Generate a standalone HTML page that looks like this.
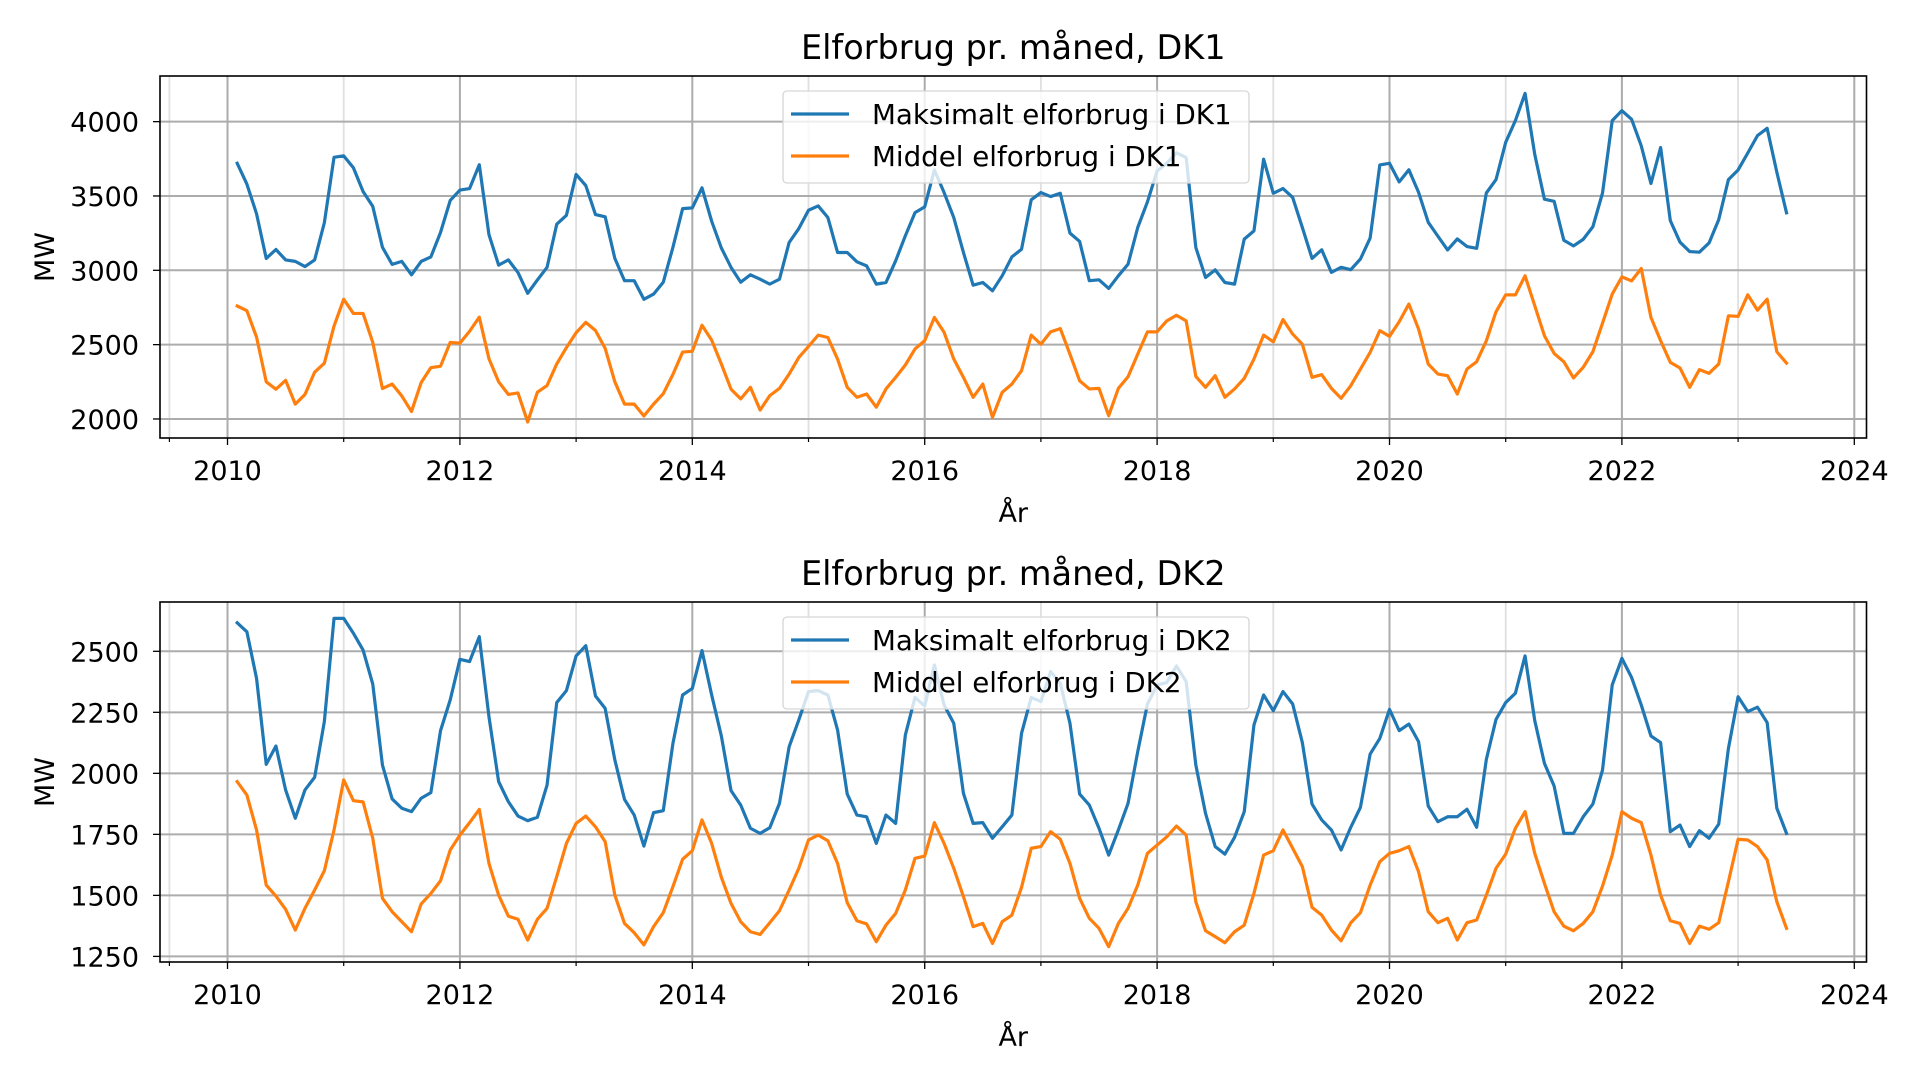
<!DOCTYPE html>
<html><head><meta charset="utf-8"><style>
html,body{margin:0;padding:0;background:#fff;}
svg{display:block;font-family:"DejaVu Sans","Liberation Sans",sans-serif;}
</style></head><body>
<svg id="fig" width="1920" height="1080" viewBox="0 0 1920 1080" xmlns="http://www.w3.org/2000/svg"></svg>
<script>
// ---- data (monthly, Jan 2010 .. May 2023) ----
const startYear = 2010;
const xTickLabels = ["2010","2012","2014","2016","2018","2020","2022","2024"];
const dk1YTicks = [2000,2500,3000,3500,4000];
const dk2YTicks = [1250,1500,1750,2000,2250,2500];
const dk1Max = [3720,3580,3380,3080,3140,3070,3060,3025,3070,3320,3760,3770,
3690,3530,3430,3155,3040,3060,2970,3060,3090,3255,3470,3540,
3550,3710,3240,3035,3070,2985,2845,2935,3020,3310,3370,3645,
3570,3375,3360,3080,2930,2930,2805,2840,2920,3155,3415,3420,
3555,3330,3150,3020,2920,2970,2940,2907,2940,3187,3281,3404,
3433,3355,3120,3120,3057,3030,2907,2918,3064,3232,3388,3427,
3675,3523,3355,3120,2900,2918,2862,2963,3090,3142,3474,3523,
3496,3518,3250,3194,2930,2936,2878,2963,3041,3288,3460,3668,
3720,3790,3758,3153,2952,3003,2918,2907,3210,3265,3747,3518,
3550,3490,3288,3080,3138,2986,3020,3004,3076,3217,3709,3720,
3595,3676,3525,3323,3229,3137,3211,3160,3148,3520,3610,3861,
4007,4190,3780,3478,3464,3202,3164,3208,3293,3520,4007,4074,
4016,3837,3584,3826,3334,3189,3126,3122,3184,3341,3610,3675,
3789,3906,3955,3660,3387];
const dk1Mean = [2760,2728,2550,2250,2200,2260,2100,2165,2315,2375,2625,2805,
2710,2710,2515,2205,2235,2155,2050,2245,2345,2355,2515,2510,
2590,2685,2405,2250,2165,2175,1980,2180,2225,2370,2480,2580,
2650,2595,2475,2250,2100,2100,2020,2100,2170,2300,2450,2455,
2630,2530,2370,2200,2135,2213,2060,2157,2206,2302,2414,2488,
2564,2548,2403,2213,2146,2168,2079,2202,2280,2363,2471,2527,
2683,2583,2403,2280,2146,2235,2011,2179,2235,2325,2564,2503,
2586,2608,2436,2257,2202,2206,2022,2206,2284,2436,2586,2586,
2660,2698,2660,2286,2213,2291,2146,2202,2273,2403,2564,2519,
2669,2571,2503,2280,2298,2206,2139,2224,2336,2448,2594,2556,
2654,2773,2605,2370,2302,2291,2168,2336,2385,2526,2721,2835,
2835,2963,2762,2560,2441,2385,2276,2347,2452,2645,2840,2956,
2929,3012,2683,2526,2381,2343,2213,2332,2307,2370,2694,2690,
2835,2732,2806,2452,2376];
const dk2Max = [2617,2580,2389,2037,2112,1932,1816,1932,1984,2212,2635,2635,
2574,2505,2366,2034,1895,1857,1843,1898,1921,2175,2301,2467,
2458,2560,2232,1966,1884,1825,1806,1820,1952,2290,2339,2481,
2523,2317,2266,2055,1893,1829,1702,1839,1847,2123,2321,2348,
2503,2321,2153,1929,1870,1775,1754,1777,1877,2109,2219,2335,
2339,2321,2178,1915,1829,1822,1713,1829,1795,2157,2311,2276,
2444,2280,2205,1918,1795,1798,1734,1781,1829,2164,2311,2294,
2417,2369,2205,1915,1870,1775,1665,1768,1877,2089,2284,2362,
2372,2440,2376,2034,1836,1700,1669,1738,1843,2198,2321,2257,
2335,2284,2126,1874,1809,1768,1686,1779,1861,2079,2143,2262,
2175,2202,2130,1866,1802,1822,1822,1853,1779,2057,2221,2290,
2328,2481,2216,2041,1948,1754,1754,1822,1874,2014,2362,2471,
2393,2280,2153,2126,1761,1788,1700,1765,1734,1792,2102,2314,
2253,2271,2208,1857,1754];
const dk2Mean = [1966,1911,1768,1542,1497,1443,1358,1447,1522,1601,1768,1973,
1888,1883,1734,1488,1433,1392,1351,1465,1508,1560,1686,1747,
1798,1852,1631,1501,1415,1402,1317,1402,1447,1577,1713,1795,
1825,1781,1720,1501,1385,1347,1297,1372,1429,1536,1648,1683,
1809,1713,1574,1467,1392,1351,1340,1388,1437,1522,1611,1727,
1747,1724,1631,1470,1396,1383,1310,1378,1426,1522,1652,1661,
1798,1713,1611,1495,1372,1385,1303,1392,1419,1533,1693,1700,
1761,1730,1631,1488,1406,1365,1290,1385,1447,1542,1672,1706,
1740,1784,1747,1474,1355,1331,1306,1351,1378,1508,1665,1683,
1768,1693,1618,1451,1419,1358,1314,1388,1429,1542,1638,1672,
1683,1700,1597,1433,1388,1406,1317,1388,1399,1501,1611,1669,
1775,1843,1672,1549,1433,1374,1355,1385,1433,1538,1665,1843,
1816,1798,1665,1501,1396,1385,1303,1374,1361,1388,1556,1730,
1727,1700,1645,1474,1365];

const NS = "http://www.w3.org/2000/svg";
const svg = document.getElementById("fig");
function mk(tag, attrs, parent){
  const e = document.createElementNS(NS, tag);
  for (const k in attrs) e.setAttribute(k, attrs[k]);
  (parent||svg).appendChild(e);
  return e;
}
const X0 = 160, X1 = 1866.5, XMIN = 2009.419, XMAX = 2024.105;
function xs(v){ return X0 + (v - XMIN) / (XMAX - XMIN) * (X1 - X0); }

function drawPanel(cfg){
  const g = mk("g", {});
  
  
  const T = cfg.top, B = cfg.bottom;
  const ys = v => B - (v - cfg.ymin) / (cfg.ymax - cfg.ymin) * (B - T);
  const minors = [2009.5,2011,2013,2015,2017,2019,2021,2023];
  minors.forEach(m=>{
    const l = mk("line",{x1:xs(m),x2:xs(m),y1:T,y2:B,stroke:"#e0e0e0","stroke-width":1.8},g);
    
    
    const t = mk("line",{x1:xs(m),x2:xs(m),y1:B,y2:B+4,stroke:"#000","stroke-width":1.2},g);
    
    
  });
  xTickLabels.forEach(lbl=>{
    const v = parseFloat(lbl);
    const x = xs(v);
    const l = mk("line",{x1:x,x2:x,y1:T,y2:B,stroke:"#acacac","stroke-width":2},g);
    
    
    const t = mk("line",{x1:x,x2:x,y1:B,y2:B+7,stroke:"#000","stroke-width":1.3},g);
    
    
    const tx = mk("text",{x:x,y:B+42,"text-anchor":"middle","font-size":27,fill:"#000"},g);
    tx.textContent = lbl;
    
    
  });
  cfg.yticks.forEach(v=>{
    const y = ys(v);
    const l = mk("line",{x1:X0,x2:X1,y1:y,y2:y,stroke:"#acacac","stroke-width":2},g);
    
    
    const t = mk("line",{x1:X0-7,x2:X0,y1:y,y2:y,stroke:"#000","stroke-width":1.3},g);
    
    
    const tx = mk("text",{x:139,y:y+10,"text-anchor":"end","font-size":27,fill:"#000"},g);
    tx.textContent = String(v);
    
    
  });
  const series = [[cfg.maxData,"#1f77b4","max-line"],[cfg.meanData,"#ff7f0e","mean-line"]];
  series.forEach(([data,col,nm])=>{
    const pts = data.map((v,i)=> xs(startYear + (i+1)/12).toFixed(2)+","+ys(v).toFixed(2)).join(" ");
    const p = mk("polyline",{points:pts,fill:"none",stroke:col,"stroke-width":3.2,"stroke-linejoin":"round","stroke-linecap":"square"},g);
    
    
  });
  const sp = mk("rect",{x:X0,y:T,width:X1-X0,height:B-T,fill:"none",stroke:"#000","stroke-width":1.6},g);
  
  
  const tt = mk("text",{x:(X0+X1)/2,y:T-17,"text-anchor":"middle","font-size":33.5,fill:"#000"},g);
  tt.textContent = cfg.title;
  
  
  const xl = mk("text",{x:(X0+X1)/2,y:B+84,"text-anchor":"middle","font-size":27,fill:"#000"},g);
  xl.textContent = "År";
  
  
  const cy = (T+B)/2;
  const yl = mk("text",{x:54,y:cy,"text-anchor":"middle","font-size":27,fill:"#000",transform:"rotate(-90 54 "+cy+")"},g);
  yl.textContent = "MW";
  
  
  const lg = mk("g",{},g);
  
  
  const LT = T + 15;
  mk("rect",{x:783,y:LT,width:466,height:92,rx:4,fill:"#fff","fill-opacity":0.8,stroke:"#d6d6d6","stroke-width":1.3},lg);
  const entries = [["#1f77b4","Maksimalt elforbrug i "+cfg.region],["#ff7f0e","Middel elforbrug i "+cfg.region]];
  entries.forEach(([col,label],i)=>{
    const ry = LT + 23 + i*42;
    const ln = mk("line",{x1:791,x2:849,y1:ry,y2:ry,stroke:col,"stroke-width":3.2},lg);
    
    
    const tx = mk("text",{x:872,y:ry+10,"font-size":27.7,fill:"#000"},lg);
    tx.textContent = label;
    
    
  });
}
drawPanel({name:"dk1-chart",title:"Elforbrug pr. måned, DK1",region:"DK1",top:76,bottom:438,ymin:1872,ymax:4307,yticks:dk1YTicks,maxData:dk1Max,meanData:dk1Mean});
drawPanel({name:"dk2-chart",title:"Elforbrug pr. måned, DK2",region:"DK2",top:602,bottom:962,ymin:1227,ymax:2702,yticks:dk2YTicks,maxData:dk2Max,meanData:dk2Mean});
</script>
</body></html>
